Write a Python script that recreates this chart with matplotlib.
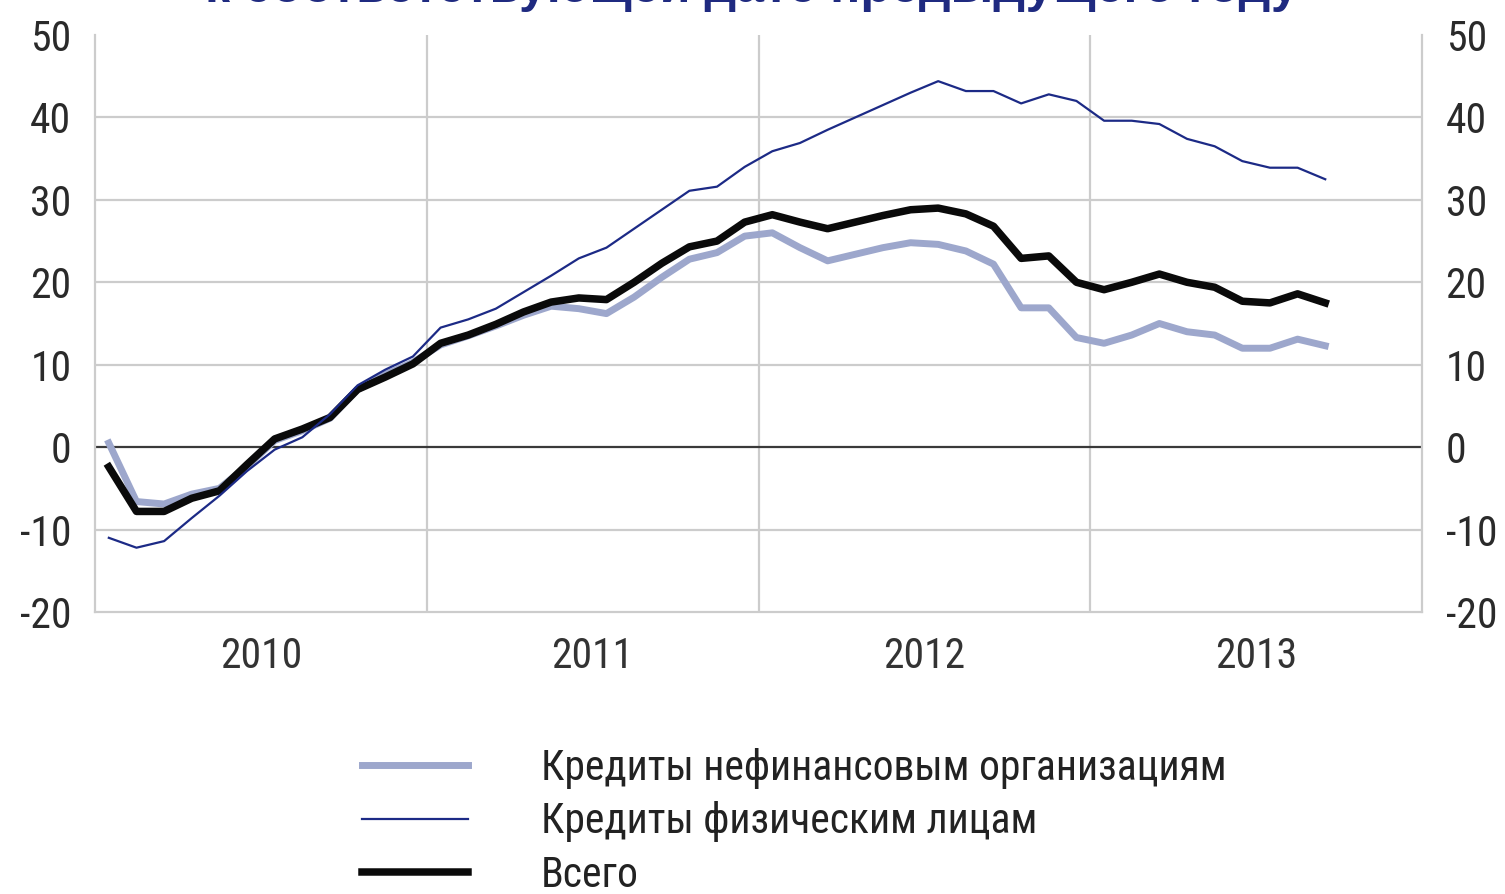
import matplotlib
matplotlib.use("Agg")
import matplotlib.pyplot as plt
import numpy as np

# ---- data (monthly, Jan 2010 .. Sep 2013), % y/y ----
nonfin = [0.5, -6.6, -6.9, -5.7, -5.0, -2.3, 0.8, 2.0, 3.5, 7.0, 8.8, 10.3,
          12.4, 13.5, 14.7, 16.0, 17.1, 16.8, 16.2, 18.2, 20.6, 22.8, 23.6, 25.6,
          26.0, 24.2, 22.6, 23.4, 24.2, 24.8, 24.6, 23.8, 22.2, 16.9, 16.9, 13.3,
          12.6, 13.6, 15.0, 14.0, 13.6, 12.0, 12.0, 13.1, 12.3]
households = [-11.0, -12.2, -11.4, -8.6, -5.9, -2.9, -0.3, 1.2, 4.0, 7.5, 9.4, 11.0,
              14.5, 15.5, 16.8, 18.8, 20.8, 22.9, 24.2, 26.5, 28.8, 31.1, 31.6, 34.0,
              35.9, 36.9, 38.5, 40.0, 41.5, 43.0, 44.4, 43.2, 43.2, 41.7, 42.8, 42.0,
              39.6, 39.6, 39.2, 37.4, 36.5, 34.7, 33.9, 33.9, 32.5]
total = [-2.4, -7.8, -7.8, -6.2, -5.3, -2.1, 1.0, 2.2, 3.6, 7.0, 8.5, 10.1,
         12.6, 13.6, 14.9, 16.4, 17.6, 18.1, 17.9, 20.0, 22.3, 24.3, 25.0, 27.3,
         28.2, 27.3, 26.5, 27.3, 28.1, 28.8, 29.0, 28.3, 26.8, 22.9, 23.2, 20.0,
         19.1, 20.0, 21.0, 20.0, 19.4, 17.7, 17.5, 18.6, 17.5]
years = ["2010", "2011", "2012", "2013"]
labels = ["Кредиты нефинансовым организациям", "Кредиты физическим лицам", "Всего"]
title = "к соответствующей дате предыдущего году"

FAM = ["Liberation Sans Narrow", "Roboto Condensed", "Liberation Sans", "DejaVu Sans"]
plt.rcParams["font.family"] = FAM
plt.rcParams["axes.unicode_minus"] = False

W, H = 1505, 894
fig = plt.figure(figsize=(W / 100, H / 100), dpi=100)
ax = fig.add_axes([95 / W, 1 - 612 / H, (1422 - 95) / W, (612 - 35) / H])

x = np.arange(len(total)) + 0.5
l1, = ax.plot(x, nonfin, color="#9da7cc", lw=5.0, solid_joinstyle="round", zorder=3)
l3, = ax.plot(x, total, color="#0a0a0a", lw=5.4, solid_joinstyle="round", zorder=4)
l2, = ax.plot(x, households, color="#1c2a86", lw=1.6, zorder=5)

ax.set_xlim(0, 48)
ax.set_ylim(-20, 50)
ax.set_yticks(np.arange(-20, 51, 10))
ax.set_xticks([12, 24, 36])
ax.set_xticklabels([])
ax.set_xticks([6, 18, 30, 42], minor=True)
ax.set_xticklabels(years, minor=True)
ax.tick_params(axis="x", which="both", length=0)
ax.tick_params(axis="x", which="minor", pad=17, labelsize=30, labelcolor="#333333")
ax.tick_params(axis="y", length=0, pad=17, labelsize=30, labelcolor="#2a2a2a")

ax.grid(True, which="major", color="#cccccc", lw=1.6)
for gl in ax.get_ygridlines():
    gl.set_visible(False)
for v in [-10, 10, 20, 30, 40]:
    ax.axhline(v, color="#cccccc", lw=1.6, zorder=1)
ax.axhline(0, color="#3a3a3a", lw=1.6, zorder=2)
ax.set_axisbelow(True)

for s in ["left", "right", "bottom"]:
    ax.spines[s].set_color("#cccccc")
    ax.spines[s].set_linewidth(1.6)
ax.spines["top"].set_visible(False)

ax2 = ax.twinx()
ax2.set_ylim(-20, 50)
ax2.set_yticks(np.arange(-20, 51, 10))
ax2.tick_params(axis="y", length=0, pad=17, labelsize=30, labelcolor="#2a2a2a")
for s in ax2.spines.values():
    s.set_visible(False)

# title cropped at the top edge as in the reference
fig.text(752 / W, 1 - 2 / H, title, ha="center", va="baseline", fontsize=36,
         fontweight="bold", color="#1f2a80", family=["Liberation Sans", "DejaVu Sans"])

leg = fig.legend([l1, l2, l3], labels, loc="upper left",
                 bbox_to_anchor=(362 / W, 1 - 748 / H), frameon=False,
                 fontsize=30, handlelength=2.55, handletextpad=1.75,
                 labelspacing=0.3, borderpad=0, borderaxespad=0)
for t in leg.get_texts():
    t.set_color("#222222")

fig.savefig("out.png", dpi=100)
